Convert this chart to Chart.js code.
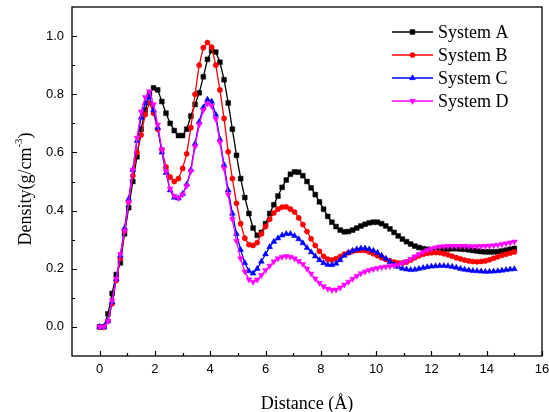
<!DOCTYPE html>
<html>
<head>
<meta charset="utf-8">
<script src="https://cdn.jsdelivr.net/npm/chart.js@4/dist/chart.umd.min.js"></script>
<style>
html,body{margin:0;padding:0;background:#fff;}
#wrap{width:549px;height:412px;position:relative;}
</style>
</head>
<body>
<div id="wrap"><canvas id="c"></canvas></div>
<script>
const distances = [
0, 0.15, 0.3, 0.45, 0.6, 0.75, 0.9, 1.05, 1.2, 1.35,
1.5, 1.65, 1.8, 1.95, 2.1, 2.25, 2.4, 2.55, 2.7, 2.85,
3, 3.15, 3.3, 3.45, 3.6, 3.75, 3.9, 4.05, 4.2, 4.35,
4.5, 4.65, 4.8, 4.95, 5.1, 5.25, 5.4, 5.55, 5.7, 5.85,
6, 6.15, 6.3, 6.45, 6.6, 6.75, 6.9, 7.05, 7.2, 7.35,
7.5, 7.65, 7.8, 7.95, 8.1, 8.25, 8.4, 8.55, 8.7, 8.85,
9, 9.15, 9.3, 9.45, 9.6, 9.75, 9.9, 10.05, 10.2, 10.35,
10.5, 10.65, 10.8, 10.95, 11.1, 11.25, 11.4, 11.55, 11.7, 11.85,
12, 12.15, 12.3, 12.45, 12.6, 12.75, 12.9, 13.05, 13.2, 13.35,
13.5, 13.65, 13.8, 13.95, 14.1, 14.25, 14.4, 14.55, 14.7, 14.85,
15];

const systemA = [
0, 0, 0.045, 0.115, 0.18, 0.22, 0.32, 0.41, 0.5, 0.585,
0.68, 0.745, 0.8, 0.822, 0.815, 0.775, 0.735, 0.7, 0.675, 0.658,
0.658, 0.68, 0.725, 0.765, 0.805, 0.86, 0.92, 0.95, 0.945, 0.91,
0.85, 0.77, 0.68, 0.59, 0.51, 0.445, 0.39, 0.34, 0.315, 0.325,
0.355, 0.39, 0.42, 0.45, 0.48, 0.505, 0.525, 0.533, 0.532, 0.52,
0.5, 0.478, 0.455, 0.43, 0.405, 0.38, 0.36, 0.345, 0.333, 0.327,
0.328, 0.333, 0.34, 0.347, 0.353, 0.358, 0.36, 0.36, 0.355, 0.347,
0.337, 0.325, 0.313, 0.302, 0.293, 0.285, 0.278, 0.273, 0.269, 0.267,
0.266, 0.266, 0.266, 0.267, 0.268, 0.269, 0.269, 0.268, 0.267, 0.265,
0.263, 0.261, 0.259, 0.258, 0.258, 0.258, 0.259, 0.261, 0.264, 0.267,
0.27];

const systemB = [
0, 0, 0.02, 0.08, 0.16, 0.235, 0.33, 0.43, 0.52, 0.6,
0.66, 0.73, 0.77, 0.735, 0.68, 0.61, 0.55, 0.515, 0.5, 0.51,
0.545, 0.595, 0.685, 0.8, 0.9, 0.96, 0.978, 0.962, 0.9, 0.815,
0.717, 0.602, 0.51, 0.425, 0.355, 0.305, 0.283, 0.28, 0.29, 0.32,
0.345, 0.37, 0.392, 0.405, 0.412, 0.413, 0.405, 0.395, 0.375, 0.352,
0.328, 0.303, 0.28, 0.26, 0.243, 0.233, 0.23, 0.235, 0.242, 0.25,
0.255, 0.26, 0.263, 0.264, 0.263, 0.258, 0.252, 0.245, 0.238, 0.232,
0.227, 0.223, 0.22, 0.22, 0.223, 0.23, 0.238, 0.245, 0.25, 0.253,
0.255, 0.256, 0.255, 0.252, 0.248, 0.243, 0.238, 0.234, 0.23, 0.227,
0.225, 0.224, 0.225, 0.227, 0.231, 0.236, 0.241, 0.246, 0.25, 0.254,
0.258];

const systemC = [
0, 0, 0.02, 0.085, 0.165, 0.245, 0.34, 0.44, 0.54, 0.64,
0.72, 0.77, 0.79, 0.745, 0.685, 0.6, 0.53, 0.47, 0.445, 0.442,
0.457, 0.49, 0.54, 0.63, 0.705, 0.755, 0.782, 0.775, 0.73, 0.645,
0.557, 0.47, 0.39, 0.32, 0.265, 0.22, 0.192, 0.184, 0.2, 0.225,
0.25, 0.275, 0.293, 0.305, 0.315, 0.32, 0.32, 0.313, 0.302, 0.288,
0.272, 0.257, 0.243, 0.23, 0.22, 0.214, 0.213, 0.218, 0.23, 0.245,
0.255, 0.262, 0.267, 0.27, 0.27, 0.267, 0.262, 0.255, 0.245, 0.235,
0.224, 0.214, 0.207, 0.201, 0.198, 0.196, 0.197, 0.2, 0.203, 0.206,
0.208, 0.209, 0.21, 0.21, 0.209, 0.207, 0.204, 0.2, 0.197, 0.195,
0.193, 0.192, 0.191, 0.19, 0.19, 0.191, 0.192, 0.194, 0.196, 0.198,
0.199];

const systemD = [
0, 0, 0.02, 0.09, 0.165, 0.25, 0.33, 0.43, 0.54, 0.65,
0.74, 0.79, 0.81, 0.765, 0.695, 0.61, 0.535, 0.475, 0.45, 0.443,
0.455, 0.485, 0.535, 0.62, 0.695, 0.745, 0.768, 0.76, 0.715, 0.635,
0.545, 0.455, 0.37, 0.295, 0.235, 0.19, 0.163, 0.155, 0.162, 0.178,
0.195, 0.21, 0.225, 0.235, 0.241, 0.243, 0.241, 0.235, 0.226, 0.216,
0.2, 0.183, 0.166, 0.151, 0.139, 0.131, 0.127, 0.128, 0.135, 0.145,
0.155, 0.165, 0.175, 0.184, 0.19, 0.195, 0.199, 0.202, 0.205, 0.207,
0.209, 0.211, 0.214, 0.219, 0.226, 0.234, 0.242, 0.25, 0.258, 0.264,
0.269, 0.273, 0.276, 0.277, 0.278, 0.278, 0.278, 0.278, 0.278, 0.277,
0.277, 0.277, 0.278, 0.278, 0.279, 0.28, 0.282, 0.284, 0.287, 0.29,
0.293];

const seriesNames = ['System A', 'System B', 'System C', 'System D'];
const xTicks = [0, 2, 4, 6, 8, 10, 12, 14, 16];
const xMinorTicks = [1, 3, 5, 7, 9, 11, 13, 15];
const yTicks = [0, 0.2, 0.4, 0.6, 0.8, 1.0];
const yMinorTicks = [0.1, 0.3, 0.5, 0.7, 0.9];

function pts(arr){ return arr.map((v,i)=>({x: distances[i], y: v})); }

const styles = [
  {color:'#000000', pointStyle:'rect', radius:3.4, rotation:0},
  {color:'#ff0000', pointStyle:'circle', radius:2.6, rotation:0},
  {color:'#0000ff', pointStyle:'triangle', radius:3.4, rotation:0},
  {color:'#ff00ff', pointStyle:'triangle', radius:3.4, rotation:180}
];
const allSeries = [systemA, systemB, systemC, systemD];

const datasets = allSeries.map((s, k) => ({
  label: seriesNames[k],
  data: pts(s),
  borderColor: styles[k].color,
  backgroundColor: styles[k].color,
  borderWidth: 1.3,
  pointStyle: styles[k].pointStyle,
  pointRadius: styles[k].radius,
  pointRotation: styles[k].rotation,
  pointBorderWidth: 0.5,
  pointBorderColor: styles[k].color,
  pointBackgroundColor: styles[k].color,
  tension: 0,
  order: 4 - k
}));

const SERIF = '"Liberation Serif", "Times New Roman", serif';
const SANS = '"Liberation Sans", Arial, sans-serif';

const decor = {
  id: 'decor',
  afterDatasetsDraw(chart) {
    const ctx = chart.ctx;
    const a = chart.chartArea;
    const xs = chart.scales.x, ys = chart.scales.y;
    ctx.save();
    ctx.strokeStyle = '#000';
    ctx.lineWidth = 1.3;
    ctx.strokeRect(a.left, a.top, a.right - a.left, a.bottom - a.top);
    ctx.lineWidth = 1.2;
    ctx.beginPath();
    xTicks.forEach(v => { const p = Math.round(xs.getPixelForValue(v)) + 0.5; ctx.moveTo(p, a.bottom); ctx.lineTo(p, a.bottom - 5); });
    xMinorTicks.forEach(v => { const p = Math.round(xs.getPixelForValue(v)) + 0.5; ctx.moveTo(p, a.bottom); ctx.lineTo(p, a.bottom - 3); });
    yTicks.forEach(v => { const p = Math.round(ys.getPixelForValue(v)) + 0.5; ctx.moveTo(a.left, p); ctx.lineTo(a.left + 5, p); });
    yMinorTicks.forEach(v => { const p = Math.round(ys.getPixelForValue(v)) + 0.5; ctx.moveTo(a.left, p); ctx.lineTo(a.left + 3, p); });
    ctx.stroke();

    // legend
    const lx0 = 392, lx1 = 433, tx = 438;
    const rowY = [32, 55, 78, 101];
    chart.data.datasets.forEach((ds, k) => {
      const y = rowY[k];
      ctx.strokeStyle = ds.borderColor;
      ctx.lineWidth = 1.3;
      ctx.beginPath(); ctx.moveTo(lx0, y); ctx.lineTo(lx1, y); ctx.stroke();
      ctx.fillStyle = ds.pointBackgroundColor;
      ctx.strokeStyle = ds.pointBorderColor;
      ctx.lineWidth = 0.5;
      Chart.helpers.drawPoint(ctx, {pointStyle: ds.pointStyle, radius: ds.pointRadius, rotation: ds.pointRotation, borderWidth: 0.5}, (lx0 + lx1) / 2, y);
      ctx.fillStyle = '#000';
      ctx.font = '18px ' + SERIF;
      ctx.textAlign = 'left';
      ctx.textBaseline = 'middle';
      ctx.fillText(ds.label, tx, y + 1);
    });

    // x title
    ctx.fillStyle = '#000';
    ctx.font = '18px ' + SERIF;
    ctx.textAlign = 'center';
    ctx.textBaseline = 'middle';
    ctx.fillText('Distance (\u00C5)', (a.left + a.right) / 2, 404);

    // y title with superscript
    ctx.save();
    ctx.translate(26, 189);
    ctx.rotate(-Math.PI / 2);
    const p1 = 'Density(g/cm', sup = '-3', p2 = ')';
    ctx.font = '18px ' + SERIF;
    const w1 = ctx.measureText(p1).width, w3 = ctx.measureText(p2).width;
    ctx.font = '11px ' + SERIF;
    const w2 = ctx.measureText(sup).width;
    const total = w1 + w2 + w3;
    let cx = -total / 2;
    ctx.textAlign = 'left';
    ctx.textBaseline = 'middle';
    ctx.font = '18px ' + SERIF;
    ctx.fillText(p1, cx, 0); cx += w1;
    ctx.font = '11px ' + SERIF;
    ctx.fillText(sup, cx, -7); cx += w2;
    ctx.font = '18px ' + SERIF;
    ctx.fillText(p2, cx, 0);
    ctx.restore();
    ctx.restore();
  }
};

function zeroPad(s) { s.paddingTop = 0; s.paddingBottom = 0; s.paddingLeft = 0; s.paddingRight = 0; }

new Chart(document.getElementById('c'), {
  type: 'line',
  data: { datasets },
  options: {
    responsive: true,
    maintainAspectRatio: false,
    animation: false,
    devicePixelRatio: 1,
    layout: { padding: { left: 0, top: 7, right: 7, bottom: 0 } },
    plugins: { legend: { display: false }, tooltip: { enabled: false } },
    scales: {
      x: {
        type: 'linear', min: -1, max: 16,
        afterBuildTicks: s => { s.ticks = xTicks.map(v => ({value: v})); },
        afterFit: s => { s.height = 56; zeroPad(s); },
        grid: { display: false, drawTicks: false },
        border: { display: false },
        ticks: { color: '#000', font: { family: SANS, size: 13 }, padding: 6, maxRotation: 0, autoSkip: false,
                 callback: v => String(v) }
      },
      y: {
        type: 'linear', min: -0.1, max: 1.1,
        afterBuildTicks: s => { s.ticks = yTicks.map(v => ({value: v})); },
        afterFit: s => { s.width = 72; zeroPad(s); },
        grid: { display: false, drawTicks: false },
        border: { display: false },
        ticks: { color: '#000', font: { family: SANS, size: 13 }, padding: 8,
                 callback: v => Number(v).toFixed(1) }
      }
    }
  },
  plugins: [decor]
});
</script>
</body>
</html>
